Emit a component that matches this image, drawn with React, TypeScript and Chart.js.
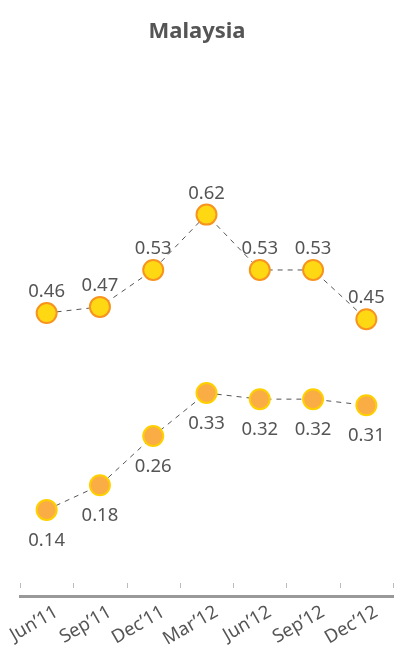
import React, { useEffect, useRef } from "react";
import { Chart, registerables } from "chart.js";

Chart.register(...registerables);

const categories = ["Jun’11", "Sep’11", "Dec’11", "Mar’12", "Jun’12", "Sep’12", "Dec’12"];
const seriesTop = [0.46, 0.47, 0.53, 0.62, 0.53, 0.53, 0.45];
const seriesBottom = [0.14, 0.18, 0.26, 0.33, 0.32, 0.32, 0.31];

const FONT = "'Noto Sans', 'DejaVu Sans', sans-serif";
const TEXT = "#555555";

const labelPlugin = {
  id: "pointLabels",
  afterDatasetsDraw(chart: any) {
    const ctx = chart.ctx;
    ctx.save();
    ctx.font = `18.5px ${FONT}`;
    ctx.fillStyle = TEXT;
    ctx.textAlign = "center";
    chart.data.datasets.forEach((ds: any, di: number) => {
      const meta = chart.getDatasetMeta(di);
      meta.data.forEach((pt: any, i: number) => {
        const v = ds.data[i];
        const txt = v.toFixed(2);
        ctx.textBaseline = "alphabetic";
        if (di === 0) {
          ctx.fillText(txt, pt.x, pt.y - 16);
        } else {
          ctx.fillText(txt, pt.x, pt.y + 36);
        }
      });
    });
    ctx.restore();
  },
};

const tickMarkPlugin = {
  id: "tickMarks",
  beforeDatasetsDraw(chart: any) {
    const ctx = chart.ctx;
    const x = chart.scales.x;
    const bottom = chart.chartArea.bottom;
    ctx.save();
    ctx.strokeStyle = "#bbbbbb";
    ctx.lineWidth = 1;
    for (let i = 0; i <= categories.length; i++) {
      const px = Math.round(x.getPixelForValue(i - 0.5)) + 0.5;
      ctx.beginPath();
      ctx.moveTo(px, bottom - 13);
      ctx.lineTo(px, bottom - 8);
      ctx.stroke();
    }
    ctx.restore();
  },
};

export default function App() {
  const ref = useRef<HTMLCanvasElement>(null);
  useEffect(() => {
    document.body.style.margin = "0";
    const chart = new Chart(ref.current!, {
      type: "line",
      data: {
        labels: categories,
        datasets: [
          {
            data: seriesTop,
            borderColor: "#555555",
            borderWidth: 1,
            borderDash: [5, 5],
            pointRadius: 10,
            pointBorderWidth: 2,
            pointBackgroundColor: "#FFD814",
            pointBorderColor: "#F7931E",
            tension: 0,
          },
          {
            data: seriesBottom,
            borderColor: "#555555",
            borderWidth: 1,
            borderDash: [5, 5],
            pointRadius: 10,
            pointBorderWidth: 2,
            pointBackgroundColor: "#FBAD45",
            pointBorderColor: "#FFD000",
            tension: 0,
          },
        ],
      },
      options: {
        animation: false,
        responsive: false,
        maintainAspectRatio: false,
        layout: { autoPadding: false, padding: 0 },
        plugins: {
          legend: { display: false },
          tooltip: { enabled: false },
          title: {
            display: true,
            text: "Malaysia",
            color: TEXT,
            font: { family: FONT, size: 22, weight: "bold" },
            padding: { top: 19, bottom: 120 },
          },
        },
        scales: {
          x: {
            offset: true,
            grid: { display: false, offset: true, drawTicks: false },
            border: { display: true, color: "#999999", width: 3 },
            ticks: {
              color: TEXT,
              font: { family: FONT, size: 18.5 },
              minRotation: 30,
              maxRotation: 30,
              padding: 5,
              labelOffset: 10,
              autoSkip: false,
            },
            afterFit(scale: any) {
              scale.height = 50;
              scale.paddingLeft = 20;
              scale.paddingRight = 1;
            },
          },
          y: {
            display: false,
            min: 0,
            max: 0.7,
          },
        },
      },
      plugins: [labelPlugin, tickMarkPlugin],
    });
    return () => chart.destroy();
  }, []);
  return <canvas ref={ref} width={394} height={646} style={{ display: "block" }} />;
}
